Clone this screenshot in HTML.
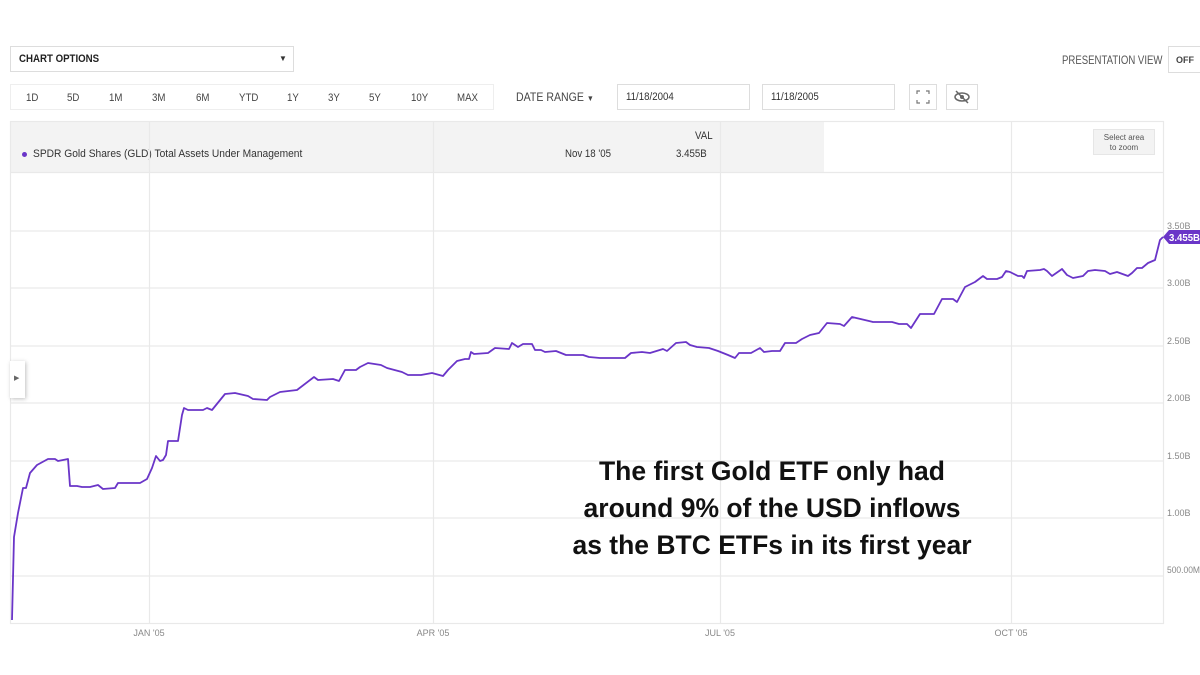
<!DOCTYPE html>
<html><head><meta charset="utf-8"><style>
body{margin:0;width:1200px;height:675px;background:#fff;font-family:"Liberation Sans",sans-serif;position:relative;overflow:hidden;color:#333}
.a{position:absolute}
.box{position:absolute;border:1px solid #ddd;background:#fff;box-sizing:border-box}
.n{transform:scaleX(.88);transform-origin:left top;white-space:nowrap}
</style></head><body>
<div class="box" style="left:10px;top:46px;width:284px;height:26px"></div>
<div class="a n" style="left:19px;top:53px;font-size:11px;font-weight:bold;color:#222">CHART OPTIONS</div>
<div class="a" style="left:279px;top:54px;font-size:8px">▼</div>
<div class="a n" style="left:1062px;top:53px;font-size:12px;color:#555;transform:scaleX(.8)">PRESENTATION VIEW</div>
<div class="box" style="left:1168px;top:46px;width:40px;height:27px"></div>
<div class="a" style="left:1176px;top:55px;font-size:9px;font-weight:bold;color:#444">OFF</div>
<div class="box" style="left:10px;top:84px;width:484px;height:26px;border-color:#eee"></div>
<div class="a" style="top:92px;left:0;font-size:11px;color:#444;width:500px">
<span class="a n" style="left:26px">1D</span><span class="a n" style="left:67px">5D</span><span class="a n" style="left:109px">1M</span><span class="a n" style="left:152px">3M</span><span class="a n" style="left:196px">6M</span><span class="a n" style="left:239px">YTD</span><span class="a n" style="left:287px">1Y</span><span class="a n" style="left:328px">3Y</span><span class="a n" style="left:369px">5Y</span><span class="a n" style="left:411px">10Y</span><span class="a n" style="left:457px">MAX</span></div>
<div class="a n" style="left:516px;top:90px;font-size:12px;color:#444">DATE RANGE <span style="font-size:8px">▼</span></div>
<div class="box" style="left:617px;top:84px;width:133px;height:26px"></div>
<div class="a n" style="left:626px;top:91px;font-size:11px">11/18/2004</div>
<div class="box" style="left:762px;top:84px;width:133px;height:26px"></div>
<div class="a n" style="left:771px;top:91px;font-size:11px">11/18/2005</div>
<div class="box" style="left:909px;top:84px;width:28px;height:26px"></div>
<svg class="a" style="left:916px;top:90px" width="14" height="14" stroke="#777" stroke-width="1.2" fill="none"><path d="M1 4V1H4M10 1H13V4M13 10V13H10M4 13H1V10"/></svg>
<div class="box" style="left:946px;top:84px;width:32px;height:26px"></div>
<svg class="a" style="left:953px;top:89px" width="18" height="16"><ellipse cx="9" cy="8" rx="7" ry="4" fill="none" stroke="#666" stroke-width="1.5"/><circle cx="9" cy="8" r="2" fill="#666"/><line x1="3" y1="2" x2="15" y2="14" stroke="#666" stroke-width="1.5"/></svg>

<div class="a" style="left:10px;top:121px;width:814px;height:51px;background:#f3f3f3"></div>
<div class="a" style="left:22px;top:152px;width:5px;height:5px;border-radius:50%;background:#6a35c8"></div>
<div class="a n" style="left:33px;top:148px;font-size:11px;color:#333;transform:scaleX(.93)">SPDR Gold Shares (GLD) Total Assets Under Management</div>
<div class="a n" style="left:695px;top:130px;font-size:11px;color:#333">VAL</div>
<div class="a n" style="left:565px;top:148px;font-size:11px;color:#333">Nov 18 '05</div>
<div class="a n" style="left:676px;top:148px;font-size:11px;color:#333">3.455B</div>
<div class="a" style="left:1093px;top:129px;width:62px;height:26px;background:#f3f3f3;border:1px solid #e6e6e6;box-sizing:border-box;font-size:8px;color:#555;text-align:center;line-height:10px;padding-top:3px">Select area<br>to zoom</div>

<svg class="a" style="left:0;top:0" width="1200" height="675">
<g stroke="#e9e9e9" stroke-width="1.2" fill="none">
<rect x="10.5" y="121.5" width="1153" height="502"/>
<line x1="10" y1="172.5" x2="1163" y2="172.5"/>
<line x1="433.5" y1="121" x2="433.5" y2="623"/>
<line x1="149.5" y1="121" x2="149.5" y2="623"/>
<line x1="720.5" y1="121" x2="720.5" y2="623"/>
<line x1="1011.5" y1="121" x2="1011.5" y2="623"/>
<line x1="10" y1="231" x2="1163" y2="231"/><line x1="10" y1="288" x2="1163" y2="288"/><line x1="10" y1="346" x2="1163" y2="346"/><line x1="10" y1="403" x2="1163" y2="403"/><line x1="10" y1="461" x2="1163" y2="461"/><line x1="10" y1="518" x2="1163" y2="518"/><line x1="10" y1="576" x2="1163" y2="576"/>
</g>
<polyline fill="none" stroke="#6a35c8" stroke-width="1.8" stroke-linejoin="round" points="12,620 14,537 18,513 23,488 26,488 30,473 37,465 48,459 55,459 58,461 68,459 70,486 77,486 82,487 90,487 98,485 103,489 115,488 118,483 140,483 147,479 152,468 156,456 160,461 163,460 166,455 168,441 178,441 182,415 184,408 188,410 203,410 207,408 212,410 225,394 235,393 248,396 253,399 267,400 270,397 280,392 297,390 314,377 318,380 333,379 339,381 345,370 356,370 360,367 368,363 381,365 387,368 402,372 408,375 421,375 432,373 443,376 448,370 457,361 465,359 469,359 471,352 474,354 488,353 495,348 509,349 512,343 518,347 523,344 532,344 535,350 541,350 545,352 556,351 566,355 583,355 589,357 600,358 625,358 631,353 642,352 650,353 663,349 667,351 676,343 686,342 690,345 697,347 709,348 718,351 728,355 735,358 739,353 751,353 760,348 764,352 772,351 780,351 785,343 796,343 802,339 810,335 819,333 827,323 840,324 844,326 852,317 869,321 873,322 892,322 899,324 907,324 911,328 920,314 934,314 942,299 953,299 957,302 965,287 975,282 983,276 987,279 997,279 1002,277 1006,271 1010,272 1018,276 1022,276 1024,278 1027,271 1040,270 1044,269 1047,271 1052,276 1062,269 1067,275 1073,278 1083,276 1088,271 1095,270 1105,271 1110,274 1117,272 1128,276 1132,273 1137,268 1142,268 1148,263 1155,260 1158,248 1160,240 1163,237"/>
<polygon points="1163,237 1169,230 1200,230 1200,244 1169,244" fill="#6a35c8"/>
<text x="1169" y="241" font-size="10" font-weight="bold" fill="#fff" font-family="Liberation Sans" textLength="31" lengthAdjust="spacingAndGlyphs">3.455B</text>
<g font-size="9" fill="#888" font-family="Liberation Sans">
<text x="1167" y="229">3.50B</text><text x="1167" y="286">3.00B</text><text x="1167" y="344">2.50B</text><text x="1167" y="401">2.00B</text><text x="1167" y="459">1.50B</text><text x="1167" y="516">1.00B</text><text x="1167" y="573" textLength="33" lengthAdjust="spacingAndGlyphs">500.00M</text>
<text x="149" y="636" text-anchor="middle">JAN '05</text><text x="433" y="636" text-anchor="middle">APR '05</text><text x="720" y="636" text-anchor="middle">JUL '05</text><text x="1011" y="636" text-anchor="middle">OCT '05</text>
</g>
</svg>
<div class="a" style="left:10px;top:361px;width:15px;height:37px;background:#fff;box-shadow:1px 1px 4px rgba(0,0,0,.25)"></div>
<div class="a" style="left:14px;top:374px;font-size:7px;color:#666">▶</div>
<div class="a" style="left:542px;top:453px;width:460px;text-align:center;font-size:26.5px;font-weight:bold;line-height:37px;color:#111">The first Gold ETF only had<br>around 9% of the USD inflows<br>as the BTC ETFs in its first year</div>
</body></html>
